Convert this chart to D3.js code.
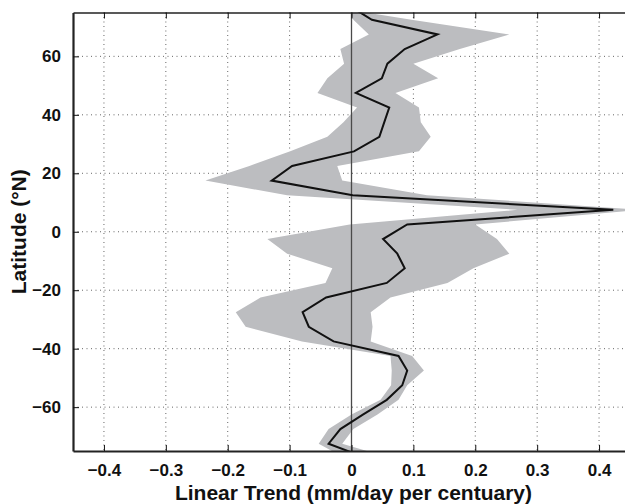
<!DOCTYPE html>
<html>
<head>
<meta charset="utf-8">
<script src="https://cdn.jsdelivr.net/npm/d3@7/dist/d3.min.js"></script>
<style>
  body { margin: 0; background: #fff; }
  svg { display: block; font-family: "Liberation Sans", Arial, sans-serif; font-weight: bold; }
</style>
</head>
<body>
<div id="chart"></div>
<script>
// latitude bins (deg N), linear trend and its spread (mm/day per century)
const lats  = [77.5, 72.5, 67.5, 62.5, 57.5, 52.5, 47.5, 42.5, 37.5, 32.5, 27.5, 22.5, 17.5, 12.5, 7.5, 2.5,
               -2.5, -7.5, -12.5, -17.5, -22.5, -27.5, -32.5, -37.5, -42.5, -47.5, -52.5, -57.5, -62.5, -67.5, -72.5, -77.5];
const trend = [-0.005, 0.033, 0.139, 0.086, 0.058, 0.049, 0.007, 0.061, 0.053, 0.045, 0.004, -0.096, -0.129, 0.002, 0.423, 0.090,
               0.051, 0.074, 0.086, 0.057, -0.041, -0.079, -0.069, -0.029, 0.076, 0.090, 0.082, 0.057, 0.019, -0.018, -0.037, 0.025];
const lower = [-0.005, 0.003, 0.028, -0.018, -0.012, -0.039, -0.055, 0.009, -0.013, -0.039, -0.099, -0.165, -0.236, -0.104, 0.268, -0.003,
               -0.136, -0.104, -0.031, -0.042, -0.147, -0.187, -0.171, -0.080, 0.063, 0.065, 0.064, 0.047, 0.000, -0.037, -0.053, -0.010];
const upper = [-0.05, 0.097, 0.255, 0.175, 0.100, 0.140, 0.071, 0.109, 0.112, 0.128, 0.109, -0.023, -0.015, 0.122, 0.470, 0.200,
               0.235, 0.255, 0.197, 0.155, 0.063, 0.031, 0.034, 0.031, 0.098, 0.117, 0.090, 0.076, 0.042, 0.003, -0.015, 0.065];

const xTicks = [-0.4, -0.3, -0.2, -0.1, 0, 0.1, 0.2, 0.3, 0.4];
const yTicks = [-60, -40, -20, 0, 20, 40, 60];

const W = 625, H = 504;
const m = {top: 12.5, left: 73, right: -5, bottom: 53};
const w = W - m.left - m.right, h = H - m.top - m.bottom;

const x = d3.scaleLinear().domain([-0.45, 0.45]).range([0, w]);
const y = d3.scaleLinear().domain([-75, 75]).range([h, 0]);

const fmt = d => d === 0 ? "0" : (d < 0 ? "\u2212" : "") + Math.abs(d);

const svg = d3.select("#chart").append("svg")
  .attr("width", W).attr("height", H);

svg.append("defs").append("clipPath").attr("id", "clip")
  .append("rect").attr("width", w).attr("height", h);

const g = svg.append("g").attr("transform", `translate(${m.left},${m.top})`);

// dotted grid
g.append("g").selectAll("line").data(xTicks).join("line")
  .attr("x1", d => x(d)).attr("x2", d => x(d)).attr("y1", 0).attr("y2", h)
  .attr("stroke", "#666").attr("stroke-width", 1).attr("stroke-dasharray", "1,3.5");
g.append("g").selectAll("line").data(yTicks).join("line")
  .attr("y1", d => y(d)).attr("y2", d => y(d)).attr("x1", 0).attr("x2", w)
  .attr("stroke", "#666").attr("stroke-width", 1).attr("stroke-dasharray", "1,3.5");

const rows = lats.map((lat, i) => ({lat, t: trend[i], lo: lower[i], hi: upper[i]}));

const plot = g.append("g").attr("clip-path", "url(#clip)");

plot.append("path").datum(rows)
  .attr("fill", "#bcbdc0")
  .attr("d", d3.area().y(d => y(d.lat)).x0(d => x(d.lo)).x1(d => x(d.hi)));

plot.append("line")
  .attr("x1", x(0)).attr("x2", x(0)).attr("y1", 0).attr("y2", h)
  .attr("stroke", "#4a4a4a").attr("stroke-width", 1.3);

plot.append("path").datum(rows)
  .attr("fill", "none").attr("stroke", "#111").attr("stroke-width", 2)
  .attr("stroke-linejoin", "miter")
  .attr("d", d3.line().y(d => y(d.lat)).x(d => x(d.t)));

// axes, ticks pointing inward
const xAxis = g.append("g").attr("transform", `translate(0,${h})`)
  .call(d3.axisBottom(x).tickValues(xTicks).tickSizeInner(-6).tickSizeOuter(0).tickPadding(13).tickFormat(fmt));
const xTop = g.append("g")
  .call(d3.axisTop(x).tickValues(xTicks).tickSizeInner(-6).tickSizeOuter(0).tickFormat(""));
const yAxis = g.append("g")
  .call(d3.axisLeft(y).tickValues(yTicks).tickSizeInner(-6).tickSizeOuter(0).tickPadding(12).tickFormat(fmt));

[xAxis, xTop, yAxis].forEach(a => {
  a.selectAll(".tick line").attr("stroke", "#111").attr("stroke-width", 1);
  a.selectAll("text").attr("font-size", 17).attr("font-weight", "bold")
    .attr("font-family", "'Liberation Sans', Arial, sans-serif").attr("fill", "#111");
});
xAxis.select(".domain").attr("stroke", "#222").attr("stroke-width", 2.2);
xTop.select(".domain").attr("stroke", "#222").attr("stroke-width", 1.5);
yAxis.select(".domain").attr("stroke", "#222").attr("stroke-width", 2.2);

svg.append("text")
  .attr("x", m.left + x(0) + 2).attr("y", 500)
  .attr("text-anchor", "middle").attr("font-size", 21).attr("fill", "#111")
  .text("Linear Trend (mm/day per centuary)");

svg.append("text")
  .attr("transform", `translate(26,${m.top + y(0)}) rotate(-90)`)
  .attr("text-anchor", "middle").attr("font-size", 21).attr("fill", "#111")
  .text("Latitude (\u00B0N)");
</script>
</body>
</html>
